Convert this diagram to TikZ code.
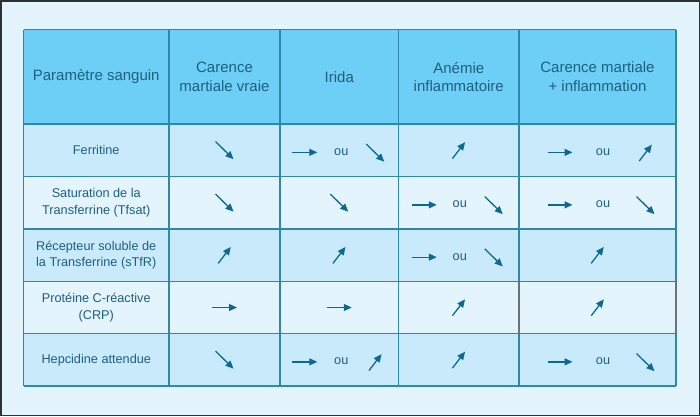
\documentclass[tikz,border=0pt]{standalone}
\usepackage{fontspec}
\setmainfont{Liberation Sans}
\usetikzlibrary{arrows.meta,positioning}
\definecolor{bgblue}{HTML}{E3F4FD}
\definecolor{headblue}{HTML}{6DCFF6}
\definecolor{rowdark}{HTML}{C9EAFA}
\definecolor{rowlight}{HTML}{E3F4FD}
\definecolor{gridblue}{HTML}{2D89AA}
\definecolor{textblue}{HTML}{1D6080}
\definecolor{arrowblue}{HTML}{0C6A92}
\definecolor{framegray}{HTML}{2E3133}
\definecolor{boxgray}{HTML}{6B7175}
% arrow group "-> ou diag": cell, diagonal pic, shifts of the three parts
\newcommand\oucell[5]{%
  \pic at ([shift={(#3,2)}]#1) {flat};
  \node [cell] (ou#1) at ([shift={(#4,1.5)}]#1) {ou};
  \pic at ([shift={(#5,2.5)}]#1) {#2};}

\begin{document}
\begin{tikzpicture}[%
    x=1pt, y=-1pt,              % pixel units, general flow is top-to-bottom
    arr/.style={-{Triangle[length=8pt,width=7pt]}, draw=arrowblue, line width=1.3pt},
    ]
% -------------------------------------------------
% A few styles
\tikzset{
  head/.style={text=textblue, font=\fontsize{15}{18.3}\selectfont, align=center},
  cell/.style={text=textblue, font=\fontsize{12.7}{16.3}\selectfont, align=center},
  gridline/.style={draw=gridblue, line width=1.2pt},
  % the arrow symbols
  down/.pic={\draw [arr] (-9,-8.8) -- (9,8.8);},
  up/.pic={\draw [arr] (-6.3,8.2) -- (6.3,-8.2);},
  flat/.pic={\draw [arr] (-12.5,0) -- (12.5,0);},
}
\useasboundingbox (0,0) rectangle (700,416);
\fill [bgblue] (0,0) rectangle (700,416);
\draw [framegray, line width=1.5pt] (0.75,0.75) rectangle (699.25,415.25);
% -------------------------------------------------
% Row backgrounds and grid
\fill [headblue] (23.5,29.5) rectangle (676,124);
\foreach \ya/\yb/\c in {124/176.7/rowdark, 176.7/229/rowlight, 229/281.3/rowdark,
    281.3/333.7/rowlight, 333.7/386/rowdark}
  \fill [\c] (23.5,\ya) rectangle (676,\yb);
\foreach \x in {23.5,169,280,398.5,519,676}
  \draw [gridline] (\x,29.5) -- (\x,386);
\foreach \y in {29.5,124,176.7,229,281.3,333.7,386}
  \draw [gridline] (23.5,\y) -- (676,\y);
% -------------------------------------------------
% Header
\node [head] (h0) at (96.25,76.75) {Paramètre sanguin};
\node [head] (h1) at (224.5,76.75) {Carence\\martiale vraie};
\node [head] (h2) at (339.25,76.75) {Irida};
\node [head] (h3) at (458.75,76.75) {Anémie\\inflammatoire};
\node [head] (h4) at (597.5,76.75) {Carence martiale\\+ inflammation};
% -------------------------------------------------
% Row labels
\node [cell] (ferr) at (96.25,150.35) {Ferritine};
\node [cell] (tfsat) at (96.25,202.85) {Saturation de la\\Transferrine (Tfsat)};
\node [cell] (stfr) at (96.25,255.15) {Récepteur soluble de\\la Transferrine (sTfR)};
\node [cell] (crp) at (96.25,307.5) {Protéine C-réactive\\(CRP)};
\node [cell] (hep) at (96.25,359.85) {Hepcidine attendue};
% -------------------------------------------------
% Cell centres
\foreach \cx [count=\i] in {224.5,339.25,458.75,597.5}
  \foreach \cy [count=\j] in {150.35,202.85,255.15,307.5,359.85}
    \coordinate (c\j\i) at (\cx,\cy);
% Ferritine
\pic at (c11) {down};
\oucell{c12}{down}{-34.5}{2}{36}
\pic at (c13) {up};
\oucell{c14}{up}{-37.5}{5.5}{48}
% Tfsat
\pic at (c21) {down};
\pic at (c22) {down};
\oucell{c23}{down}{-34.5}{1}{35}
\oucell{c24}{down}{-37.5}{5.5}{48}
% sTfR
\pic at (c31) {up};
\pic at (c32) {up};
\oucell{c33}{down}{-34.5}{1}{35}
\pic at (c34) {up};
% CRP
\pic at (c41) {flat};
\pic at (c42) {flat};
\pic at (c43) {up};
\pic at (c44) {up};
\draw [boxgray, line width=1.3pt] (519,281.3) rectangle (676,333.7);
% Hepcidine
\pic at (c51) {down};
\oucell{c52}{up}{-34.5}{2}{36}
\pic at (c53) {up};
\oucell{c54}{down}{-37.5}{5.5}{48}
% -------------------------------------------------
\end{tikzpicture}
\end{document}
